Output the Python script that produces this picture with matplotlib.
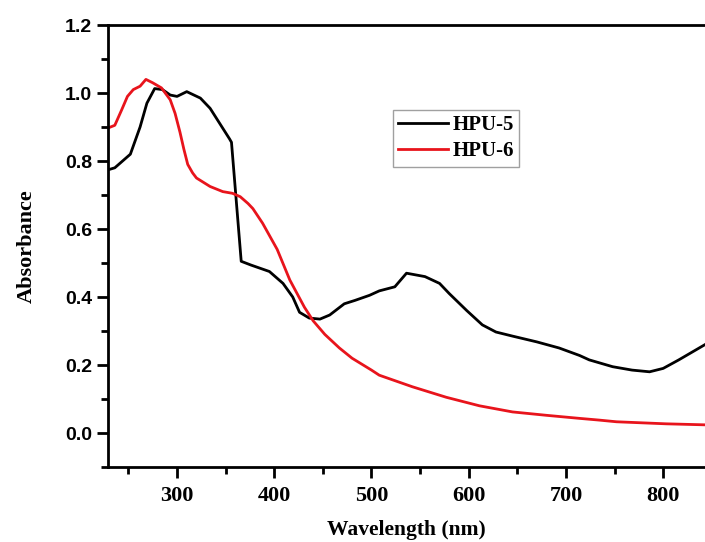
import matplotlib
matplotlib.use("Agg")
import matplotlib.pyplot as plt
from matplotlib.ticker import MultipleLocator

# HPU-5 absorbance (black)
hpu5_wl = [229, 236, 252, 262, 269, 277, 285, 293, 300, 310, 324, 334, 344, 354, 356,
           366, 376, 395, 409, 419, 426, 436, 447, 457, 472, 483, 498, 508, 524, 536,
           555, 570, 580, 598, 614, 628, 645, 670, 693, 714, 724, 748, 768, 786, 800,
           816, 843]
hpu5_abs = [0.774, 0.78, 0.82, 0.90, 0.97, 1.013, 1.01, 0.994, 0.99, 1.004, 0.985, 0.955,
            0.91, 0.865, 0.855, 0.505, 0.494, 0.475, 0.44, 0.40, 0.355, 0.338, 0.335,
            0.347, 0.38, 0.39, 0.405, 0.418, 0.43, 0.47, 0.46, 0.44, 0.41, 0.36, 0.318,
            0.297, 0.285, 0.268, 0.25, 0.228, 0.215, 0.195, 0.185, 0.18, 0.19, 0.215, 0.26]

# HPU-6 absorbance (red)
hpu6_wl = [229, 236, 243, 249, 255, 262, 268, 275, 284, 293, 298, 303, 307, 311, 316,
           320, 334, 347, 357, 365, 373, 378, 388, 403, 416, 431, 440, 452, 467, 480,
           500, 508, 542, 577, 611, 645, 680, 714, 734, 752, 786, 803, 843]
hpu6_abs = [0.897, 0.905, 0.95, 0.99, 1.01, 1.02, 1.04, 1.03, 1.015, 0.98, 0.94, 0.885,
            0.835, 0.79, 0.765, 0.75, 0.725, 0.71, 0.705, 0.695, 0.675, 0.66, 0.617,
            0.54, 0.45, 0.37, 0.33, 0.29, 0.25, 0.22, 0.185, 0.17, 0.136, 0.105, 0.08,
            0.062, 0.052, 0.043, 0.038, 0.033, 0.029, 0.027, 0.024]

serif = ["Liberation Serif", "DejaVu Serif"]
sans = ["Liberation Sans", "DejaVu Sans"]

fig = plt.figure(figsize=(7.05, 5.42), dpi=100)
ax = fig.add_axes([108 / 705, 1 - 467 / 542, 1 - 108 / 705, (467 - 25) / 542])

ax.plot(hpu5_wl, hpu5_abs, color="black", lw=2, label="HPU-5")
ax.plot(hpu6_wl, hpu6_abs, color="#e8141c", lw=2, label="HPU-6")

ax.set_xlim(229, 843)
ax.set_ylim(-0.1, 1.2)
ax.xaxis.set_major_locator(MultipleLocator(100))
ax.xaxis.set_minor_locator(MultipleLocator(50))
ax.yaxis.set_major_locator(MultipleLocator(0.2))
ax.yaxis.set_minor_locator(MultipleLocator(0.1))

ax.spines["right"].set_visible(False)
for s in ["left", "bottom", "top"]:
    ax.spines[s].set_linewidth(2)

ax.tick_params(which="major", direction="out", length=8, width=2)
ax.tick_params(which="minor", direction="out", length=5, width=2)
ax.tick_params(top=False, right=False, which="both")
ax.tick_params(axis="x", pad=6)

for lbl in ax.get_xticklabels():
    lbl.set_family(serif)
    lbl.set_fontweight("bold")
    lbl.set_fontsize(16)
for lbl in ax.get_yticklabels():
    lbl.set_family(sans)
    lbl.set_fontweight("bold")
    lbl.set_fontsize(14)

ax.set_xlabel("Wavelength (nm)", family=serif, fontweight="bold", fontsize=15.5, labelpad=10)
ax.set_ylabel("Absorbance", family=serif, fontweight="bold", fontsize=16, labelpad=20)

leg = ax.legend(loc="upper left", bbox_to_anchor=(393 / 705, 1 - 110 / 542),
                bbox_transform=fig.transFigure, fancybox=False, framealpha=1,
                edgecolor="#a0a0a0", handlelength=2.4, handletextpad=0.2,
                borderpad=0.25, labelspacing=0.3, borderaxespad=0,
                prop={"family": serif, "weight": "bold", "size": 15})
leg.get_frame().set_linewidth(1)

fig.savefig("out.png", dpi=100)
